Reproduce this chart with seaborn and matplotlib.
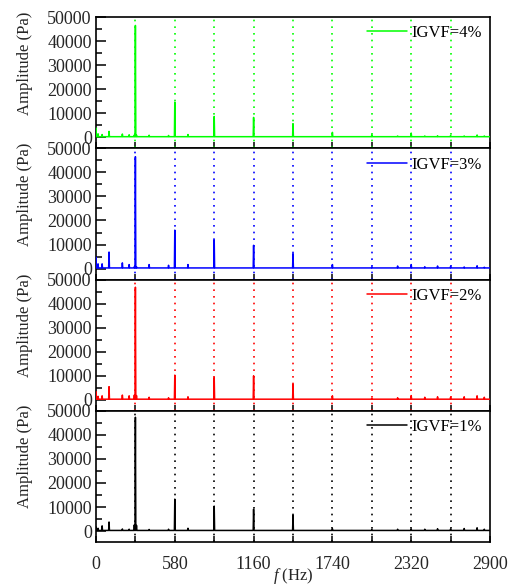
import numpy as np
import pandas as pd
import matplotlib
matplotlib.use("Agg")
import matplotlib.pyplot as plt
import seaborn as sns
from matplotlib.ticker import MultipleLocator

sns.set_theme(style="white")
plt.rcParams['font.family'] = ['Liberation Serif', 'DejaVu Serif']
plt.rcParams['mathtext.fontset'] = 'custom'
plt.rcParams['mathtext.it'] = 'Liberation Serif:italic'
plt.rcParams['mathtext.rm'] = 'Liberation Serif'

# ---- data ----
labels = ["IGVF=4%", "IGVF=3%", "IGVF=2%", "IGVF=1%"]
colors = ["#00ff00", "#0000ff", "#ff0000", "#000000"]

peak_f = [0, 15, 45, 96, 194, 244, 282, 290, 298, 391, 534, 580, 677, 870,
          1160, 1450, 1740, 2030, 2220, 2320, 2420, 2514, 2610, 2710, 2805, 2858]

amp_4 = [3900, 1500, 1200, 2500, 1400, 1100, 1000, 46500, 1000, 900, 800, 14600, 1200, 8700,
         8300, 5700, 2100, 1100, 600, 1800, 600, 700, 800, 600, 1000, 600]
amp_3 = [4800, 2000, 2000, 6900, 2400, 1700, 800, 46500, 800, 1700, 1400, 16000, 1700, 11900,
         9700, 6200, 1700, 700, 1100, 1700, 800, 1100, 900, 700, 1200, 600]
amp_2 = [3400, 1500, 1700, 5500, 2000, 1700, 2000, 46800, 1800, 1100, 900, 10300, 1300, 9300,
         10000, 6500, 1700, 600, 900, 1800, 1100, 1300, 1100, 1300, 1700, 1100]
amp_1 = [1800, 1200, 2200, 3800, 900, 800, 2600, 47300, 2400, 700, 800, 13300, 1200, 10400,
         9100, 6600, 1000, 700, 800, 900, 800, 1000, 900, 1100, 1400, 800]
amps = [amp_4, amp_3, amp_2, amp_1]
baseline = 300

grid_f = [290, 580, 870, 1160, 1450, 1740, 2030, 2320, 2610]
xticks = [0, 580, 1160, 1740, 2320, 2900]


def spectrum(freqs, vals, base):
    xs, ys = [], []
    for f, v in zip(freqs, vals):
        xs += [f - 3, f, f + 3]
        ys += [base, v, base]
    xs.append(2900)
    ys.append(base)
    return pd.DataFrame({"f": xs, "amp": ys})


fig = plt.figure(figsize=(5.13, 5.85), dpi=100)
left, right = 96 / 513, 490 / 513
top, bottom = 1 - 17 / 585, 1 - 542 / 585
h = (top - bottom) / 4
axes = []
for i in range(4):
    ax = fig.add_axes([left, top - (i + 1) * h, right - left, h])
    axes.append(ax)

for i, ax in enumerate(axes):
    df = spectrum(peak_f, amps[i], baseline)
    for g in grid_f:
        ax.axvline(g, color=colors[i], ls=(0, (1, 3)), lw=1.2, zorder=1)
    sns.lineplot(data=df, x="f", y="amp", ax=ax, color=colors[i], lw=1.1,
                 estimator=None, sort=False, label=labels[i], zorder=3)
    ax.set_xlim(0, 2900)
    ax.set_ylim(-4500, 50000)
    ax.set_xticks(xticks)
    ax.xaxis.set_minor_locator(MultipleLocator(290))
    ax.set_yticks([0, 10000, 20000, 30000, 40000, 50000])
    ax.yaxis.set_minor_locator(MultipleLocator(5000))
    ax.tick_params(axis='x', which='both', direction='in', length=4, width=1.1,
                   top=False, bottom=True, labelsize=13, pad=10, color='black')
    ax.tick_params(axis='y', which='major', direction='in', length=7.5, width=1.1,
                   left=True, right=False, labelsize=13, pad=3, color='black')
    ax.tick_params(axis='y', which='minor', direction='in', length=4, width=1.1,
                   left=True, right=False, color='black')
    for s in ax.spines.values():
        s.set_linewidth(1.2)
        s.set_color('black')
    ax.set_ylabel("Amplitude (Pa)", fontsize=12)
    ax.yaxis.set_label_coords(-0.16, 0.65)
    if i < 3:
        ax.tick_params(axis='x', labelbottom=False)
        ax.set_xlabel("")
    else:
        ax.set_xlabel("$f$ (Hz)", fontsize=12, labelpad=-5)
    leg = ax.legend(loc='upper right', frameon=False, fontsize=12,
                    handlelength=2.4, handletextpad=0.25, borderaxespad=0.3,
                    borderpad=0.2)
    for t in leg.get_texts():
        t.set_color('black')

fig.savefig("out.png", dpi=100)
